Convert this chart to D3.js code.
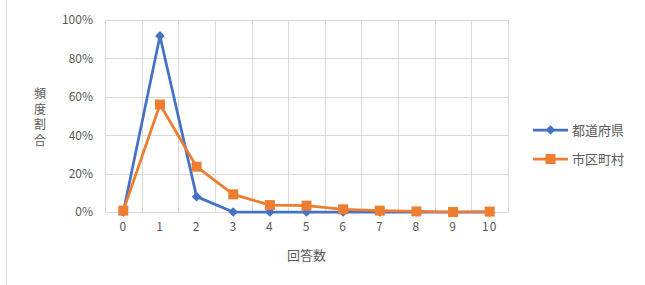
<!DOCTYPE html>
<html>
<head>
<meta charset="utf-8">
<script src="https://cdn.jsdelivr.net/npm/d3@7"></script>
<style>
body { margin: 0; background: #fff; }
text { font-family: "Noto Sans CJK JP", "Noto Sans", sans-serif; }
</style>
</head>
<body>
<svg id="chart" width="645" height="285"></svg>
<script>
// data
var categories = ["0", "1", "2", "3", "4", "5", "6", "7", "8", "9", "10"];
var prefValues = [0, 0.917, 0.08, 0, 0, 0, 0, 0, 0, 0, 0];
var muniValues = [0.007, 0.56, 0.236, 0.092, 0.036, 0.033, 0.014, 0.007, 0.003, 0.0, 0.002];
var yTicks = [0, 0.2, 0.4, 0.6, 0.8, 1.0];
var seriesNames = ["都道府県", "市区町村"];

var svg = d3.select("#chart");
var margin = {left: 105, right: 137, top: 20, bottom: 73};
var width = 645, height = 285;
var innerW = width - margin.left - margin.right;
var innerH = height - margin.top - margin.bottom;

// outer border line on the left
svg.append("line")
    .attr("x1", 6.5).attr("x2", 6.5)
    .attr("y1", 0).attr("y2", height)
    .attr("stroke", "#d9d9d9").attr("stroke-width", 1);

var g = svg.append("g").attr("transform", "translate(" + margin.left + "," + margin.top + ")");

var x = d3.scaleBand().domain(categories).range([0, innerW]).padding(0);
var y = d3.scaleLinear().domain([0, 1]).range([innerH, 0]);

// grid
g.selectAll(".hgrid").data(yTicks).enter().append("line")
    .attr("class", "hgrid")
    .attr("x1", 0).attr("x2", innerW)
    .attr("y1", function(d) { return Math.round(y(d)) + 0.5; })
    .attr("y2", function(d) { return Math.round(y(d)) + 0.5; })
    .attr("stroke", "#d9d9d9").attr("stroke-width", 1);

var vlines = categories.map(function(c) { return x(c); }).concat([innerW]);
g.selectAll(".vgrid").data(vlines).enter().append("line")
    .attr("class", "vgrid")
    .attr("x1", function(d) { return Math.round(d) + 0.5; })
    .attr("x2", function(d) { return Math.round(d) + 0.5; })
    .attr("y1", 0).attr("y2", innerH)
    .attr("stroke", "#d9d9d9").attr("stroke-width", 1);

// axes
var yAxis = d3.axisLeft(y).tickValues(yTicks).tickSize(0).tickPadding(12)
    .tickFormat(d3.format(".0%"));
var ya = g.append("g").call(yAxis);
ya.select(".domain").remove();
ya.selectAll("text").attr("fill", "#595959").style("font-size", "12px");

var xAxis = d3.axisBottom(x).tickSize(0).tickPadding(10);
var xa = g.append("g").attr("transform", "translate(0," + innerH + ")").call(xAxis);
xa.select(".domain").remove();
xa.selectAll("text").attr("fill", "#595959").style("font-size", "12px")
    .attr("letter-spacing", "1px");

// axis titles
svg.append("text")
    .attr("x", margin.left + innerW / 2)
    .attr("y", 260)
    .attr("text-anchor", "middle")
    .attr("fill", "#595959")
    .style("font-size", "13px")
    .text("回答数");

var ytitle = "頻度割合".split("");
svg.selectAll(".ytitle").data(ytitle).enter().append("text")
    .attr("class", "ytitle")
    .attr("x", 40)
    .attr("y", function(d, i) { return 98 + i * 15.5; })
    .attr("text-anchor", "middle")
    .attr("fill", "#595959")
    .style("font-size", "12px")
    .text(function(d) { return d; });

// series
var cx = function(i) { return x(categories[i]) + x.bandwidth() / 2; };
var line = d3.line()
    .x(function(d, i) { return cx(i); })
    .y(function(d) { return y(d); });

var blue = "#4472C4", orange = "#ED7D31";

g.append("path").datum(prefValues)
    .attr("d", line).attr("fill", "none")
    .attr("stroke", blue).attr("stroke-width", 2.75).attr("stroke-linejoin", "round");

var diamond = d3.symbol().type(d3.symbolDiamond2).size(60);
g.selectAll(".pm").data(prefValues).enter().append("path")
    .attr("class", "pm")
    .attr("d", diamond)
    .attr("transform", function(d, i) { return "translate(" + cx(i) + "," + y(d) + ")"; })
    .attr("fill", blue);

g.append("path").datum(muniValues)
    .attr("d", line).attr("fill", "none")
    .attr("stroke", orange).attr("stroke-width", 2.75).attr("stroke-linejoin", "round");

g.selectAll(".mm").data(muniValues).enter().append("rect")
    .attr("class", "mm")
    .attr("x", function(d, i) { return cx(i) - 5; })
    .attr("y", function(d) { return y(d) - 5; })
    .attr("width", 10).attr("height", 10)
    .attr("fill", orange);

// legend
var legend = svg.append("g").attr("transform", "translate(533,0)");
var legY = [130, 159];
legend.append("line").attr("x1", 0).attr("x2", 35).attr("y1", legY[0]).attr("y2", legY[0])
    .attr("stroke", blue).attr("stroke-width", 2.75);
legend.append("path").attr("d", diamond)
    .attr("transform", "translate(17.5," + legY[0] + ")").attr("fill", blue);
legend.append("line").attr("x1", 0).attr("x2", 35).attr("y1", legY[1]).attr("y2", legY[1])
    .attr("stroke", orange).attr("stroke-width", 2.75);
legend.append("rect").attr("x", 12.5).attr("y", legY[1] - 5).attr("width", 10).attr("height", 10)
    .attr("fill", orange);
legend.selectAll(".lt").data(seriesNames).enter().append("text")
    .attr("class", "lt")
    .attr("x", 39)
    .attr("y", function(d, i) { return legY[i]; })
    .attr("dy", "0.35em")
    .attr("fill", "#595959")
    .style("font-size", "13px")
    .text(function(d) { return d; });
</script>
</body>
</html>
